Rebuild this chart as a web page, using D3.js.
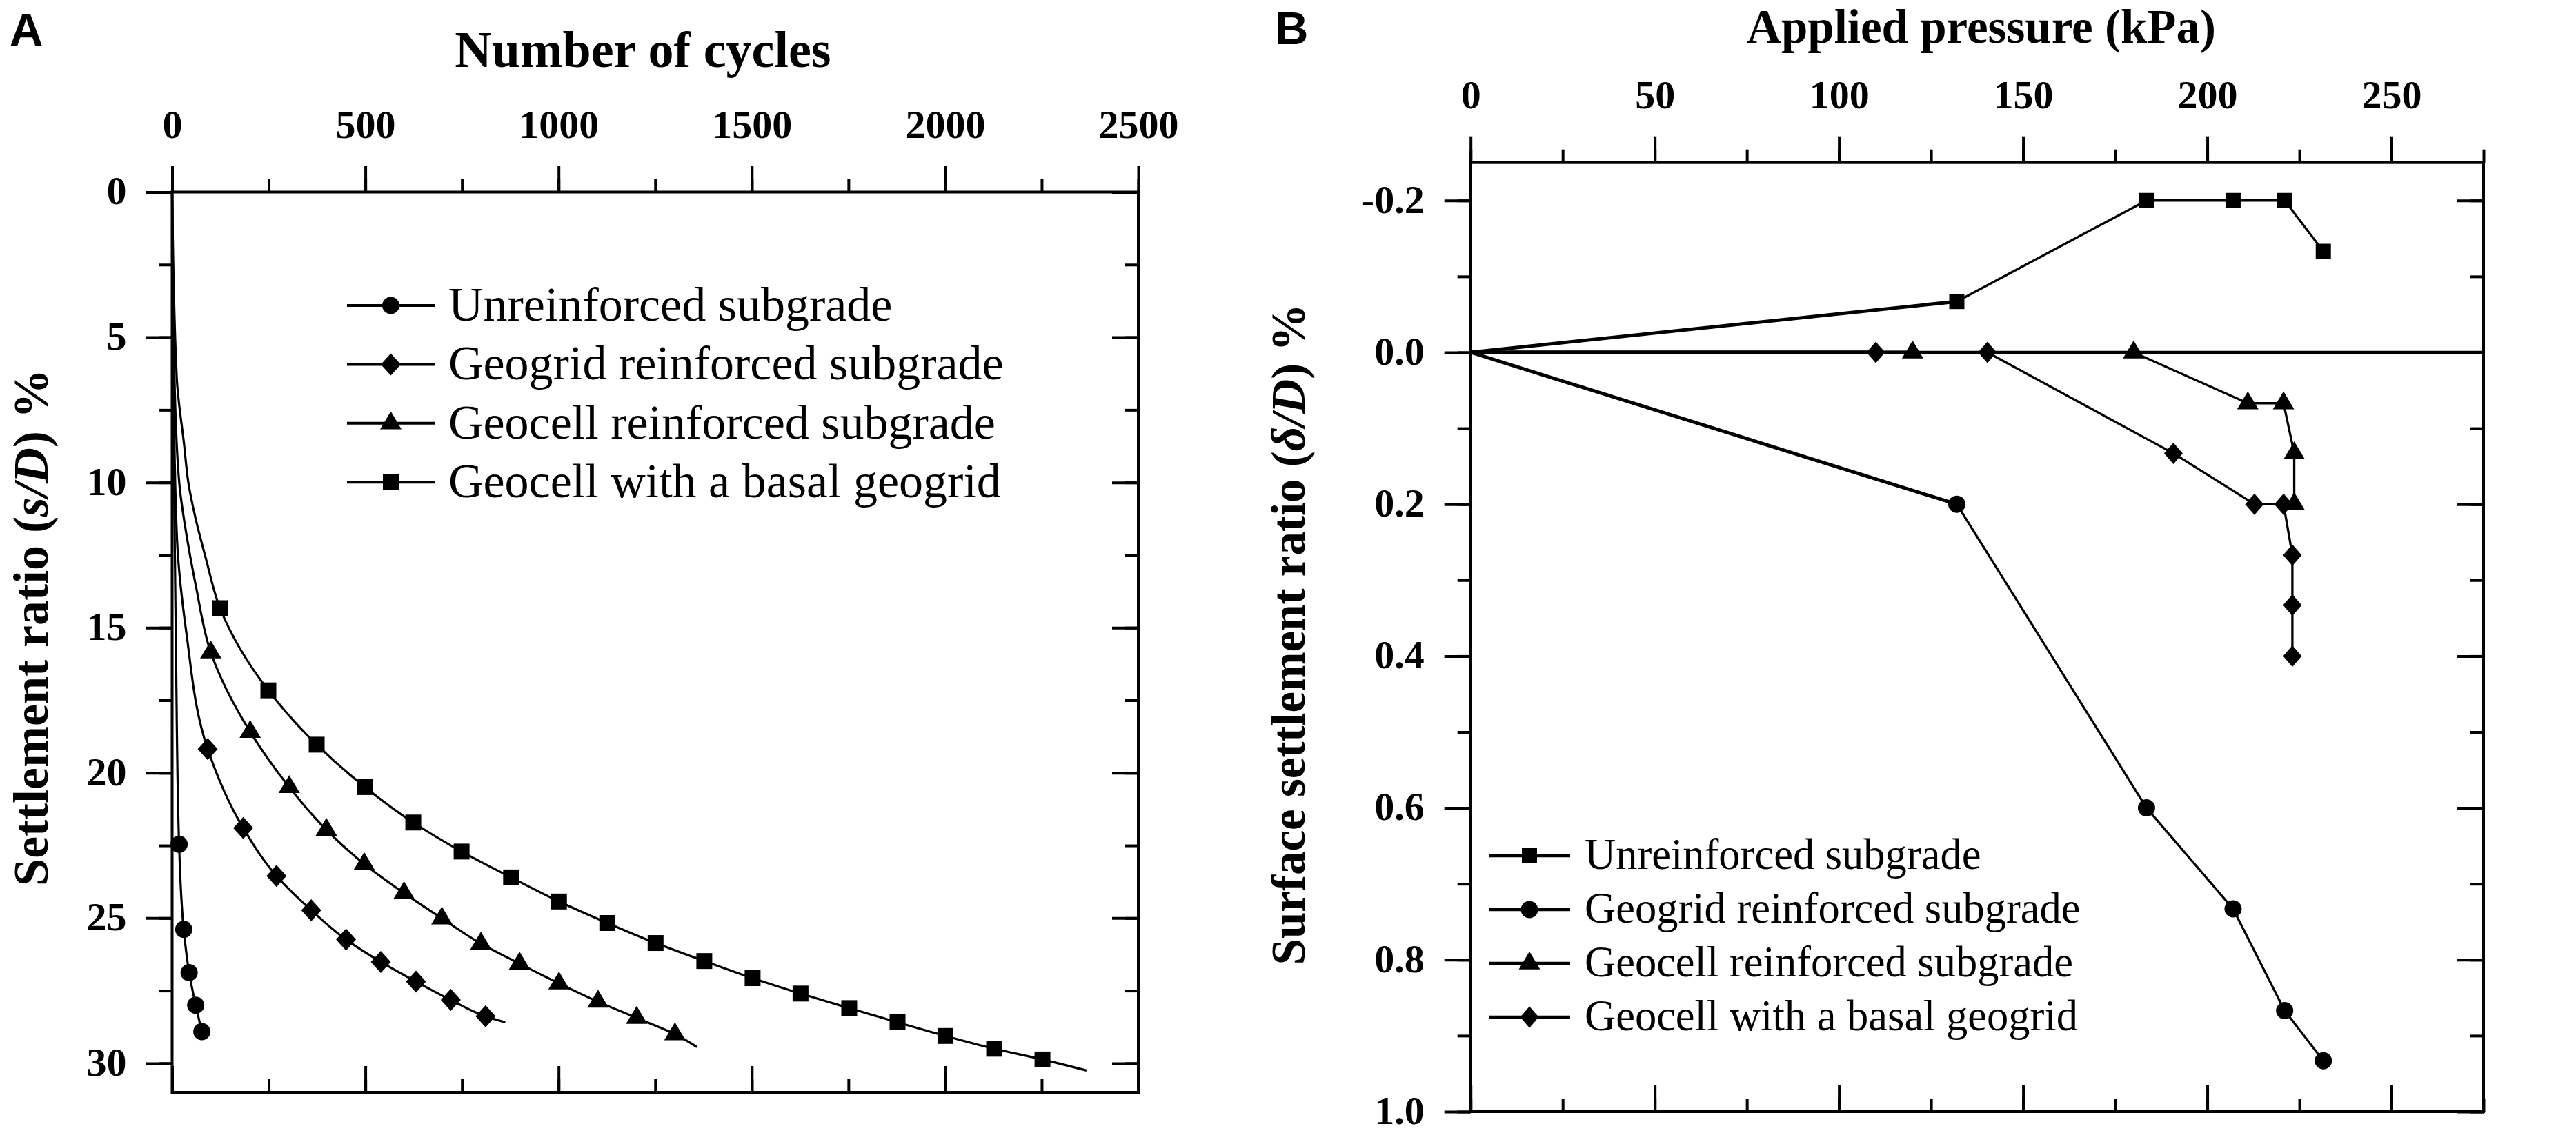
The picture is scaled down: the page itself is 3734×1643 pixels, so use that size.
<!DOCTYPE html>
<html>
<meta charset="utf-8">
<head>
<style>
body { margin: 0; background: #fff; }
svg text { fill: #000; }
.tick text { font-family: "Liberation Serif", "Times New Roman", serif; font-weight: bold; font-size: 58px; }
.tick line { stroke: #000; stroke-width: 4; }
.frame { fill: none; stroke: #000; stroke-width: 4; }
.title { font-family: "Liberation Serif", "Times New Roman", serif; font-weight: bold; }
.legend text { font-family: "Liberation Serif", "Times New Roman", serif; }
.panel { font-family: "Liberation Sans", Arial, sans-serif; font-weight: bold; font-size: 67px; }
</style>
</head>
<body>
<svg width="3734" height="1643"></svg>
<script src="https://d3js.org/d3.v7.min.js"></script>
<script>

// ---- panel A : settlement ratio vs number of cycles ----
var cycleTicks = [0, 500, 1000, 1500, 2000, 2500];
var settleTicksA = [0, 5, 10, 15, 20, 25, 30];

// markers
var unrN = [18, 30, 44, 61, 77];
var unrS = [22.46, 25.39, 26.88, 28.0, 28.91];
var ggN = [92, 184, 270, 360, 450, 540, 631, 721, 811];
var ggS = [19.18, 21.9, 23.55, 24.73, 25.74, 26.51, 27.19, 27.82, 28.38];
var gcN = [100, 202, 303, 399, 497, 600, 698, 799, 899, 1001, 1102, 1202, 1301];
var gcS = [15.85, 18.59, 20.49, 21.96, 23.14, 24.14, 25.01, 25.88, 26.57, 27.25, 27.88, 28.44, 29.0];
var gbN = [124, 249, 374, 499, 624, 749, 877, 1001, 1126, 1251, 1377, 1502, 1626, 1752, 1877, 2001, 2127, 2252];
var gbS = [14.33, 17.16, 19.03, 20.49, 21.71, 22.71, 23.6, 24.43, 25.17, 25.86, 26.48, 27.07, 27.6, 28.1, 28.59, 29.06, 29.5, 29.87];

var unrLead = [[0, 0], [2, 6.4], [10, 15.9]], unrTail = [];
var ggLead = [[0, 0], [4, 7], [12.8, 12.0], [36.6, 15.15]], ggTail = [[862, 28.59]];
var gcLead = [[0, 0], [6, 6.4], [18.7, 10.05], [39.6, 12.0], [62, 13.6]], gcTail = [[1358, 29.44]];
var gbLead = [[0, 0], [12, 6.4], [31, 8.7], [42.5, 10.05], [60, 11.2], [87, 12.6]], gbTail = [[2366, 30.25]];

var legendA = ["Unreinforced subgrade", "Geogrid reinforced subgrade",
               "Geocell reinforced subgrade", "Geocell with a basal geogrid"];

// ---- panel B : surface settlement vs applied pressure ----
var pressTicks = [0, 50, 100, 150, 200, 250];
var surfTicks = [-0.2, 0, 0.2, 0.4, 0.6, 0.8, 1.0];

var bUnrP = [0, 132, 183.5, 207, 221, 231.5];
var bUnrS = [0, -0.067, -0.2, -0.2, -0.2, -0.133];
var bGgP = [0, 132, 183.5, 207, 221, 231.5];
var bGgS = [0, 0.2, 0.6, 0.733, 0.867, 0.933];
var bGcP = [0, 120, 180, 211, 220.7, 223.6, 223.6];
var bGcS = [0, 0, 0, 0.067, 0.067, 0.133, 0.2];
var bGbP = [0, 110, 140.3, 190.8, 212.8, 220.7, 223.1, 223.1, 223.1];
var bGbS = [0, 0, 0, 0.133, 0.2, 0.2, 0.267, 0.333, 0.4];

var legendB = ["Unreinforced subgrade", "Geogrid reinforced subgrade",
               "Geocell reinforced subgrade", "Geocell with a basal geogrid"];

var svg = d3.select("svg");

// marker shapes (w,h in px)
function markerPath(kind, w, h) {
  if (kind == "circle") {
    var r = w / 2;
    return "M" + (-r) + ",0A" + r + "," + r + " 0 1,0 " + r + ",0A" + r + "," + r + " 0 1,0 " + (-r) + ",0Z";
  }
  if (kind == "square") return "M" + (-w/2) + "," + (-h/2) + "h" + w + "v" + h + "h" + (-w) + "Z";
  if (kind == "diamond") return "M0," + (-h/2) + "L" + (w/2) + ",0L0," + (h/2) + "L" + (-w/2) + ",0Z";
  // triangle, centroid at the point
  return "M0," + (-2*h/3) + "L" + (w/2) + "," + (h/3) + "L" + (-w/2) + "," + (h/3) + "Z";
}
var sizes = { circle: [25, 25], square: [23, 23], diamond: [29, 32], triangle: [31, 26] };
var sizesB = { circle: [25, 25], square: [22, 22], diamond: [27, 31], triangle: [31, 26] };

function frameAxes(g, x, y, o) {
  var x0 = x.range()[0], x1 = x.range()[1], y0 = y.range()[0], y1 = y.range()[1];
  // top (labelled, outward)
  g.append("g").attr("transform", "translate(0," + y0 + ")")
    .call(d3.axisTop(x).tickValues(o.xMinor).tickSize(19).tickFormat(""));
  g.append("g").attr("transform", "translate(0," + y0 + ")")
    .call(d3.axisTop(x).tickValues(o.xMajor).tickSize(38).tickPadding(41).tickFormat(o.xFmt));
  // bottom (inward, no labels)
  g.append("g").attr("transform", "translate(0," + y1 + ")")
    .call(d3.axisBottom(x).tickValues(o.xMinor).tickSize(-19).tickFormat(""));
  g.append("g").attr("transform", "translate(0," + y1 + ")")
    .call(d3.axisBottom(x).tickValues(o.xMajor).tickSize(-38).tickFormat(""));
  // left (labelled, outward)
  g.append("g").attr("transform", "translate(" + x0 + ",0)")
    .call(d3.axisLeft(y).tickValues(o.yMinor).tickSize(19).tickFormat(""));
  var left = g.append("g").attr("transform", "translate(" + x0 + ",0)")
    .call(d3.axisLeft(y).tickValues(o.yMajor).tickSize(38).tickPadding(o.yPad).tickFormat(o.yFmt));
  // right (inward)
  g.append("g").attr("transform", "translate(" + x1 + ",0)")
    .call(d3.axisRight(y).tickValues(o.yMinor).tickSize(-19).tickFormat(""));
  g.append("g").attr("transform", "translate(" + x1 + ",0)")
    .call(d3.axisRight(y).tickValues(o.yMajor).tickSize(-38).tickFormat(""));
  g.selectAll("path.domain").remove();
  g.selectAll(".tick text").attr("dy", null);
  left.selectAll(".tick text").attr("dy", "0.3em");
  g.append("rect").attr("class", "frame")
    .attr("x", x0).attr("y", y0).attr("width", x1 - x0).attr("height", y1 - y0);
}

function legend(g, names, kinds, sz, o) {
  var lg = g.append("g").attr("class", "legend");
  names.forEach(function(name, i) {
    var yy = o.y + i * o.step;
    lg.append("line").attr("x1", o.x).attr("x2", o.x + o.len).attr("y1", yy).attr("y2", yy)
      .attr("stroke", "#000").attr("stroke-width", o.lw);
    lg.append("path").attr("d", markerPath(kinds[i], sz[kinds[i]][0], sz[kinds[i]][1]))
      .attr("transform", "translate(" + (o.x + o.len / 2) + "," + yy + ")");
    lg.append("text").attr("x", o.x + o.len + o.gap).attr("y", yy + o.size * 0.31)
      .style("font-size", o.size + "px").text(name);
  });
}

// ================= panel A =================
var xA = d3.scaleLinear().domain([0, 2500]).range([249.5, 1650]);
var yA = d3.scaleLinear().domain([0, 31]).range([278.5, 1584]);
var gA = svg.append("g");

var kindsA = ["circle", "diamond", "triangle", "square"];
var seriesA = [
  { n: unrN, s: unrS, lead: unrLead, tail: unrTail },
  { n: ggN, s: ggS, lead: ggLead, tail: ggTail },
  { n: gcN, s: gcS, lead: gcLead, tail: gcTail },
  { n: gbN, s: gbS, lead: gbLead, tail: gbTail }
];
var lineA = d3.line().x(function(d) { return xA(d[0]); }).y(function(d) { return yA(d[1]); })
  .curve(d3.curveMonotoneY);

seriesA.forEach(function(se, i) {
  var pts = se.n.map(function(v, j) { return [v, se.s[j]]; });
  var all = se.lead.concat(pts, se.tail);
  gA.append("path").datum(all).attr("d", lineA)
    .attr("fill", "none").attr("stroke", "#000").attr("stroke-width", 3.2);
  gA.selectAll(null).data(pts).enter().append("path")
    .attr("d", markerPath(kindsA[i], sizes[kindsA[i]][0], sizes[kindsA[i]][1]))
    .attr("transform", function(d) { return "translate(" + xA(d[0]) + "," + yA(d[1]) + ")"; });
});

frameAxes(gA, xA, yA, {
  xMajor: cycleTicks, xMinor: d3.range(0, 2501, 250), xFmt: d3.format("d"),
  yMajor: settleTicksA, yMinor: d3.range(0, 31, 2.5), yFmt: d3.format("d"), yPad: 28
});

legend(gA, legendA, kindsA, sizes, { x: 503, len: 127, y: 443, step: 85.4, gap: 20, size: 70, lw: 4 });

gA.append("text").attr("class", "title").attr("x", 932).attr("y", 97)
  .attr("text-anchor", "middle").style("font-size", "74px").text("Number of cycles");

var ytA = gA.append("text").attr("class", "title")
  .attr("transform", "translate(69,910) rotate(-90)")
  .attr("text-anchor", "middle").style("font-size", "72px");
ytA.append("tspan").text("Settlement ratio (");
ytA.append("tspan").style("font-style", "italic").text("s/D");
ytA.append("tspan").text(") %");

gA.append("text").attr("class", "panel").attr("x", 14).attr("y", 66).text("A");

// ================= panel B =================
var xB = d3.scaleLinear().domain([0, 275]).range([2131.7, 3600]);
var yB = d3.scaleLinear().domain([-0.25, 1.0]).range([235.7, 1612]);
var gB = svg.append("g");

// zero reference line
gB.append("line").attr("x1", xB(0)).attr("x2", xB(275)).attr("y1", yB(0)).attr("y2", yB(0))
  .attr("stroke", "#000").attr("stroke-width", 4.5);

var kindsB = ["square", "circle", "triangle", "diamond"];
var seriesB = [
  { p: bUnrP, s: bUnrS }, { p: bGgP, s: bGgS }, { p: bGcP, s: bGcS }, { p: bGbP, s: bGbS }
];
var lineB = d3.line().x(function(d) { return xB(d[0]); }).y(function(d) { return yB(d[1]); });

seriesB.forEach(function(se, i) {
  var pts = se.p.map(function(v, j) { return [v, se.s[j]]; });
  gB.append("path").datum(pts).attr("d", lineB)
    .attr("fill", "none").attr("stroke", "#000").attr("stroke-width", 3.3)
    .attr("stroke-linejoin", "round");
  // first loading step is drawn heavier in the original
  gB.append("path").datum(pts.slice(0, 2)).attr("d", lineB)
    .attr("fill", "none").attr("stroke", "#000").attr("stroke-width", 5);
  gB.selectAll(null).data(pts.slice(1)).enter().append("path")
    .attr("d", markerPath(kindsB[i], sizesB[kindsB[i]][0], sizesB[kindsB[i]][1]))
    .attr("transform", function(d) { return "translate(" + xB(d[0]) + "," + yB(d[1]) + ")"; });
});

frameAxes(gB, xB, yB, {
  xMajor: pressTicks, xMinor: d3.range(0, 276, 25), xFmt: d3.format("d"),
  yMajor: surfTicks, yMinor: d3.range(-2, 11).map(function(k) { return k / 10; }),
  yFmt: function(v) { return (+v).toFixed(1); }, yPad: 29
});

legend(gB, legendB, kindsB, sizesB, { x: 2158, len: 118, y: 1241, step: 78, gap: 21, size: 62.5, lw: 4.5 });

gB.append("text").attr("class", "title").attr("x", 2872).attr("y", 62)
  .attr("text-anchor", "middle").style("font-size", "69px").text("Applied pressure (kPa)");

var ytB = gB.append("text").attr("class", "title")
  .attr("transform", "translate(1891,920) rotate(-90)")
  .attr("text-anchor", "middle").style("font-size", "69px");
ytB.append("tspan").text("Surface settlement ratio (");
ytB.append("tspan").style("font-style", "italic").text("\u03b4/D");
ytB.append("tspan").text(") %");

gB.append("text").attr("class", "panel").attr("x", 1848).attr("y", 64).text("B");

</script>
</body>
</html>
